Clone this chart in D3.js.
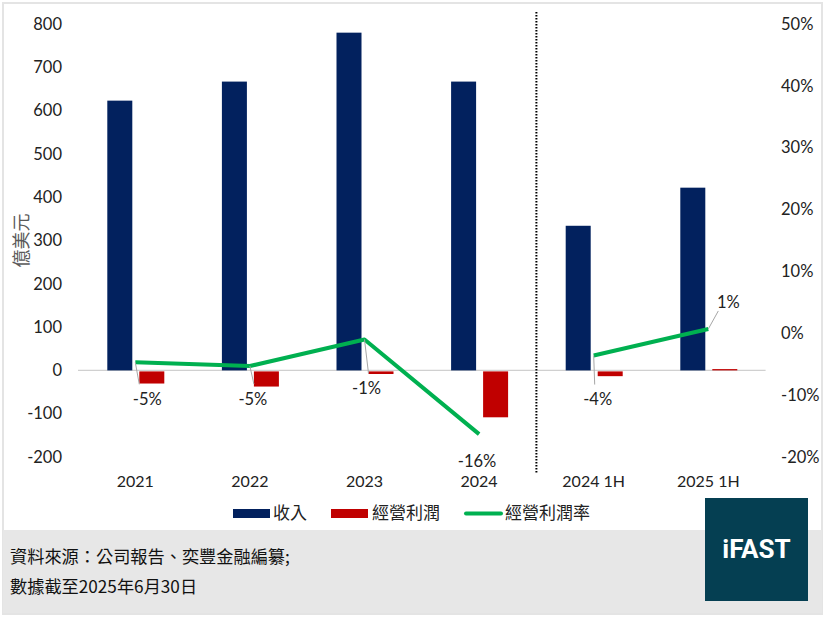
<!DOCTYPE html>
<html>
<head>
<meta charset="utf-8">
<script src="https://cdn.jsdelivr.net/npm/d3@7"></script>
<style>
  body { margin: 0; background: #fff; }
  text { font-family: Lato, "Liberation Sans", sans-serif; }
</style>
</head>
<body>
<script>
// data
var categories = ["2021", "2022", "2023", "2024", "2024 1H", "2025 1H"];
var revenue = [623, 667, 780, 667, 334, 422];
var opProfit = [-28, -35, -6, -106, -11, 3];
var opMargin = [-4.7, -5.3, -1.0, -16.3, -3.6, 0.7];
var marginLabels = ["-5%", "-5%", "-1%", "-16%", "-4%", "1%"];
var leftTicks = [-200, -100, 0, 100, 200, 300, 400, 500, 600, 700, 800];
var rightTicks = [-20, -10, 0, 10, 20, 30, 40, 50];
var legendNames = ["收入", "經營利潤", "經營利潤率"];
var footLines = ["資料來源：公司報告、奕豐金融編纂;", "數據截至2025年6月30日"];

var W = 826, H = 619;
var cjk = "'Noto Sans CJK TC', sans-serif";
var svg = d3.select("body").append("svg")
  .attr("width", W)
  .attr("height", H);

// outer panel + footer
svg.append("rect").attr("x", 3).attr("y", 3).attr("width", 819).attr("height", 611)
  .attr("fill", "#fff").attr("stroke", "#e4e4e4").attr("stroke-width", 2);
svg.append("rect").attr("x", 3).attr("y", 530).attr("width", 819).attr("height", 83)
  .attr("fill", "#e7e7e7");

var x = d3.scaleBand().domain(categories).range([78, 765.6]);
var yL = d3.scaleLinear().domain([-200, 800]).range([457, 24]);
var yR = d3.scaleLinear().domain([-20, 50]).range([457, 24]);

// left axis labels
svg.selectAll(".lt").data(leftTicks).enter().append("text")
  .attr("x", 62).attr("y", function(d) { return yL(d); })
  .attr("dy", "0.35em").attr("text-anchor", "end")
  .attr("font-size", 16.5).attr("fill", "#222")
  .text(function(d) { return d; });

// right axis labels
svg.selectAll(".rt").data(rightTicks).enter().append("text")
  .attr("x", 781).attr("y", function(d) { return yR(d); })
  .attr("dy", "0.35em").attr("text-anchor", "start")
  .attr("font-size", 16.5).attr("fill", "#222")
  .text(function(d) { return d + "%"; });

// y title
svg.append("text")
  .attr("transform", "translate(22," + yL(300) + ") rotate(-90)")
  .attr("text-anchor", "middle").attr("dy", "0.35em")
  .attr("font-size", 18).attr("fill", "#595959")
  .style("font-family", cjk)
  .text("億美元");

// zero line
svg.append("line")
  .attr("x1", 78).attr("x2", 765.6)
  .attr("y1", yL(0)).attr("y2", yL(0))
  .attr("stroke", "#d0d0d0").attr("stroke-width", 1.3);

var barW = 25, gap = 7;
// revenue bars
svg.selectAll(".rev").data(revenue).enter().append("rect")
  .attr("x", function(d, i) { return x(categories[i]) + x.bandwidth() / 2 - barW - gap / 2 + 0.5; })
  .attr("y", function(d) { return yL(d); })
  .attr("width", barW)
  .attr("height", function(d) { return yL(0) - yL(d); })
  .attr("fill", "#02215e");

// operating profit bars
svg.selectAll(".op").data(opProfit).enter().append("rect")
  .attr("x", function(d, i) { return x(categories[i]) + x.bandwidth() / 2 + gap / 2 + 0.5; })
  .attr("y", function(d) { return yL(Math.max(0, d)) + (d < 0 ? 1 : 0); })
  .attr("width", barW)
  .attr("height", function(d) { return Math.abs(yL(d) - yL(0)); })
  .attr("fill", "#c00000");

// divider
svg.append("line")
  .attr("x1", x("2024 1H")).attr("x2", x("2024 1H"))
  .attr("y1", 12).attr("y2", 473)
  .attr("stroke", "#000").attr("stroke-width", 2)
  .attr("stroke-dasharray", "1.5,1.5");

// margin line, split at divider
var line = d3.line()
  .x(function(d) { return x(d.c) + x.bandwidth() / 2; })
  .y(function(d) { return yR(d.v); });
var pts = categories.map(function(c, i) { return { c: c, v: opMargin[i] }; });
[pts.slice(0, 4), pts.slice(4)].forEach(function(seg) {
  svg.append("path").datum(seg)
    .attr("d", line)
    .attr("fill", "none")
    .attr("stroke", "#00b050")
    .attr("stroke-width", 4)
    .attr("stroke-linejoin", "round");
});

// data labels with leader lines
var labelOff = [[12, 37], [3, 33], [2, 49], [-2, 27], [4, 44], [20, -27]];
pts.forEach(function(p, i) {
  var px = x(p.c) + x.bandwidth() / 2, py = yR(p.v);
  var lx = px + labelOff[i][0], ly = py + labelOff[i][1];
  if (i !== 3) {
    var ex = i === 5 ? lx - 10 : px + (i === 4 ? 1 : 4);
    var ey = i === 5 ? ly + 9 : ly - 15;
    svg.append("line")
      .attr("x1", px).attr("y1", py).attr("x2", ex).attr("y2", ey)
      .attr("stroke", "#a6a6a6").attr("stroke-width", 1);
  }
  svg.append("text")
    .attr("x", lx).attr("y", ly).attr("dy", "0.35em")
    .attr("text-anchor", "middle")
    .attr("font-size", 16.5).attr("fill", "#222")
    .text(marginLabels[i]);
});

// x labels
svg.selectAll(".xl").data(categories).enter().append("text")
  .attr("x", function(d) { return x(d) + x.bandwidth() / 2; })
  .attr("y", 481).attr("dy", "0.35em")
  .attr("text-anchor", "middle")
  .attr("font-size", 16).attr("fill", "#222")
  .text(function(d) { return d; });

// legend
var lg = svg.append("g");
lg.append("rect").attr("x", 233).attr("y", 509).attr("width", 37).attr("height", 9).attr("fill", "#02215e");
lg.append("rect").attr("x", 331).attr("y", 509).attr("width", 37).attr("height", 9).attr("fill", "#c00000");
lg.append("line").attr("x1", 466).attr("x2", 501).attr("y1", 513.5).attr("y2", 513.5)
  .attr("stroke", "#00b050").attr("stroke-width", 4).attr("stroke-linecap", "round");
var lgText = [273, 372, 505];
legendNames.forEach(function(n, i) {
  lg.append("text").attr("x", lgText[i]).attr("y", 513).attr("dy", "0.35em")
    .attr("font-size", 17).attr("fill", "#222")
    .style("font-family", cjk)
    .text(n);
});

// footer text
footLines.forEach(function(t, i) {
  svg.append("text").attr("x", 10).attr("y", 557 + i * 30).attr("dy", "0.35em")
    .attr("font-size", 17.2).attr("fill", "#111")
    .style("font-family", cjk)
    .text(t);
});

// logo
svg.append("rect").attr("x", 705).attr("y", 498).attr("width", 103).attr("height", 103)
  .attr("fill", "#053f52");
svg.append("text").attr("x", 756.5).attr("y", 549).attr("dy", "0.35em")
  .attr("text-anchor", "middle").attr("font-size", 26).attr("font-weight", "bold")
  .attr("fill", "#fff").style("font-family", "Roboto, sans-serif")
  .text("iFAST");
</script>
</body>
</html>
